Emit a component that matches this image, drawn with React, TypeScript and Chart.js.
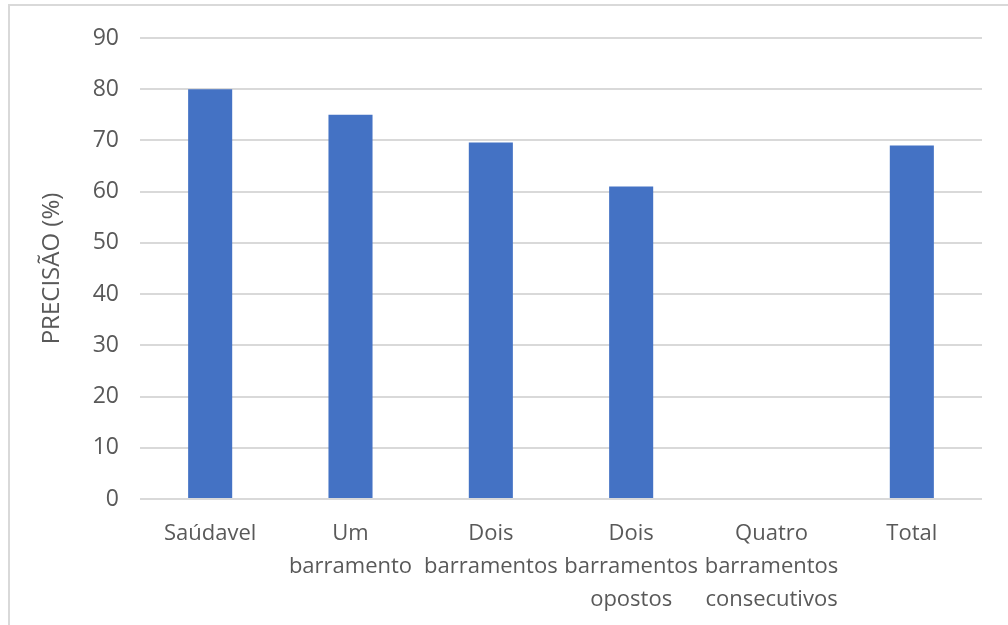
import React, { useEffect, useRef } from "react";
import { Chart, registerables } from "chart.js";

Chart.register(...registerables);

const categories: string[][] = [
  ["Saúdavel"],
  ["Um", "barramento"],
  ["Dois", "barramentos"],
  ["Dois", "barramentos", "opostos"],
  ["Quatro", "barramentos", "consecutivos"],
  ["Total"],
];
const precision: number[] = [80, 75, 69.6, 61, 0, 69];
const yTicks: number[] = [0, 10, 20, 30, 40, 50, 60, 70, 80, 90];
const yTitle = "PRECISÃO (%)";

const FONT = "'Open Sans', sans-serif";

export default function App() {
  const ref = useRef<HTMLCanvasElement | null>(null);
  useEffect(() => {
    if (!ref.current) return;
    const chart = new Chart(ref.current, {
      type: "bar",
      data: {
        labels: categories,
        datasets: [
          {
            data: precision,
            backgroundColor: "#4472c4",
            barPercentage: 0.314,
            categoryPercentage: 1,
          },
        ],
      },
      options: {
        animation: false,
        responsive: false,
        maintainAspectRatio: false,
        layout: { padding: { left: 0, top: 38, right: 26, bottom: 0 } },
        plugins: { legend: { display: false }, tooltip: { enabled: false } },
        scales: {
          x: {
            grid: { display: false },
            border: { display: false },
            ticks: {
              color: "#595959",
              font: { family: FONT, size: 22, lineHeight: "33px" },
              padding: 10,
              maxRotation: 0,
              autoSkip: false,
            },
            afterFit: (s: any) => {
              s.height = 126;
            },
          },
          y: {
            min: 0,
            max: 90,
            afterBuildTicks: (s: any) => {
              s.ticks = yTicks.map((v) => ({ value: v }));
            },
            grid: { color: "#d9d9d9", lineWidth: 2, drawTicks: false },
            border: { display: false },
            ticks: {
              color: "#595959",
              font: { family: FONT, size: 23 },
              padding: 21,
            },
            title: {
              display: true,
              text: yTitle,
              color: "#595959",
              font: { family: FONT, size: 24 },
              padding: { top: 38, bottom: 0 },
            },
            afterFit: (s: any) => {
              s.width = 140;
            },
          },
        },
      },
    });
    return () => chart.destroy();
  }, []);
  return (
    <div
      style={{
        position: "absolute",
        left: 0,
        top: 0,
        width: 1008,
        height: 625,
        overflow: "hidden",
        background: "#fff",
      }}
    >
      <div
        style={{
          position: "absolute",
          left: 8,
          top: 4,
          width: 1100,
          height: 700,
          border: "2px solid #d9d9d9",
          boxSizing: "border-box",
        }}
      />
      <canvas
        ref={ref}
        width={1008}
        height={625}
        style={{ position: "absolute", left: 0, top: 0 }}
      />
    </div>
  );
}
